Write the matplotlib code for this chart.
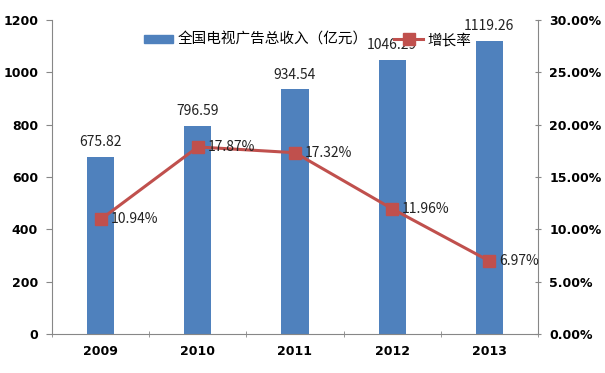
import matplotlib
matplotlib.use("Agg")
import matplotlib.pyplot as plt
from matplotlib.patches import Patch
from matplotlib.lines import Line2D

plt.rcParams['font.family'] = ['Noto Sans CJK SC', 'DejaVu Sans']

years = ["2009", "2010", "2011", "2012", "2013"]
revenue = [675.82, 796.59, 934.54, 1046.29, 1119.26]
growth = [10.94, 17.87, 17.32, 11.96, 6.97]
left_ticks = [0, 200, 400, 600, 800, 1000, 1200]
right_ticks = [0, 5, 10, 15, 20, 25, 30]

fig = plt.figure(figsize=(6.05, 3.73), dpi=100)
ax = fig.add_axes([52/605, 1-334/373, (538-52)/605, (334-20)/373])
x = list(range(len(years)))
bar_color = '#4F81BD'
line_color = '#C0504D'
gray = '#878787'

ax.bar(x, revenue, width=0.28, color=bar_color, zorder=2)
ax.set_xlim(-0.5, len(years)-0.5)
ax.set_ylim(0, 1200)
ax.set_yticks(left_ticks)
ax.set_yticklabels([str(t) for t in left_ticks], fontsize=9, fontweight='bold', family='DejaVu Sans')
ax.set_xticks(x)
ax.set_xticklabels(years, fontsize=9, fontweight='bold', family='DejaVu Sans')
ax.tick_params(axis='x', length=0, pad=8)
ax.set_xticks([i - 0.5 for i in range(len(years)+1)], minor=True)
ax.tick_params(axis='x', which='minor', length=4, color=gray, direction='inout')
ax.tick_params(axis='y', length=4, color=gray, direction='out', pad=6)
for s in ['top', 'right']:
    ax.spines[s].set_visible(False)
for s in ['left', 'bottom']:
    ax.spines[s].set_color(gray)

for xi, v in zip(x, revenue):
    ax.text(xi, v + 30, f"{v:.2f}", ha='center', va='bottom', fontsize=10, color='#222222')

ax2 = ax.twinx()
ax2.set_ylim(0, 30)
ax2.set_yticks(right_ticks)
ax2.set_yticklabels([f"{t:.2f}%" for t in right_ticks], fontsize=9, fontweight='bold', family='DejaVu Sans')
ax2.tick_params(axis='y', length=4, color=gray, direction='inout', pad=6)
for s in ['top', 'left', 'bottom']:
    ax2.spines[s].set_visible(False)
ax2.spines['right'].set_color(gray)
ax2.plot(x, growth, color=line_color, lw=2.2, marker='s', markersize=9, zorder=3)
for xi, g in zip(x, growth):
    ax2.text(xi + 0.1, g, f"{g:.2f}%", ha='left', va='center', fontsize=10, color='#222222')

handles = [Patch(color=bar_color), Line2D([], [], color=line_color, lw=2.2, marker='s', markersize=9)]
fig.legend(handles, ["全国电视广告总收入（亿元）", "增长率"], loc='center', bbox_to_anchor=(308/605, 1-40/373),
           ncol=2, frameon=False, fontsize=10.5, handlelength=2.0, handleheight=0.5,
           columnspacing=1.8, handletextpad=0.3)

fig.savefig("out.png", dpi=100)
